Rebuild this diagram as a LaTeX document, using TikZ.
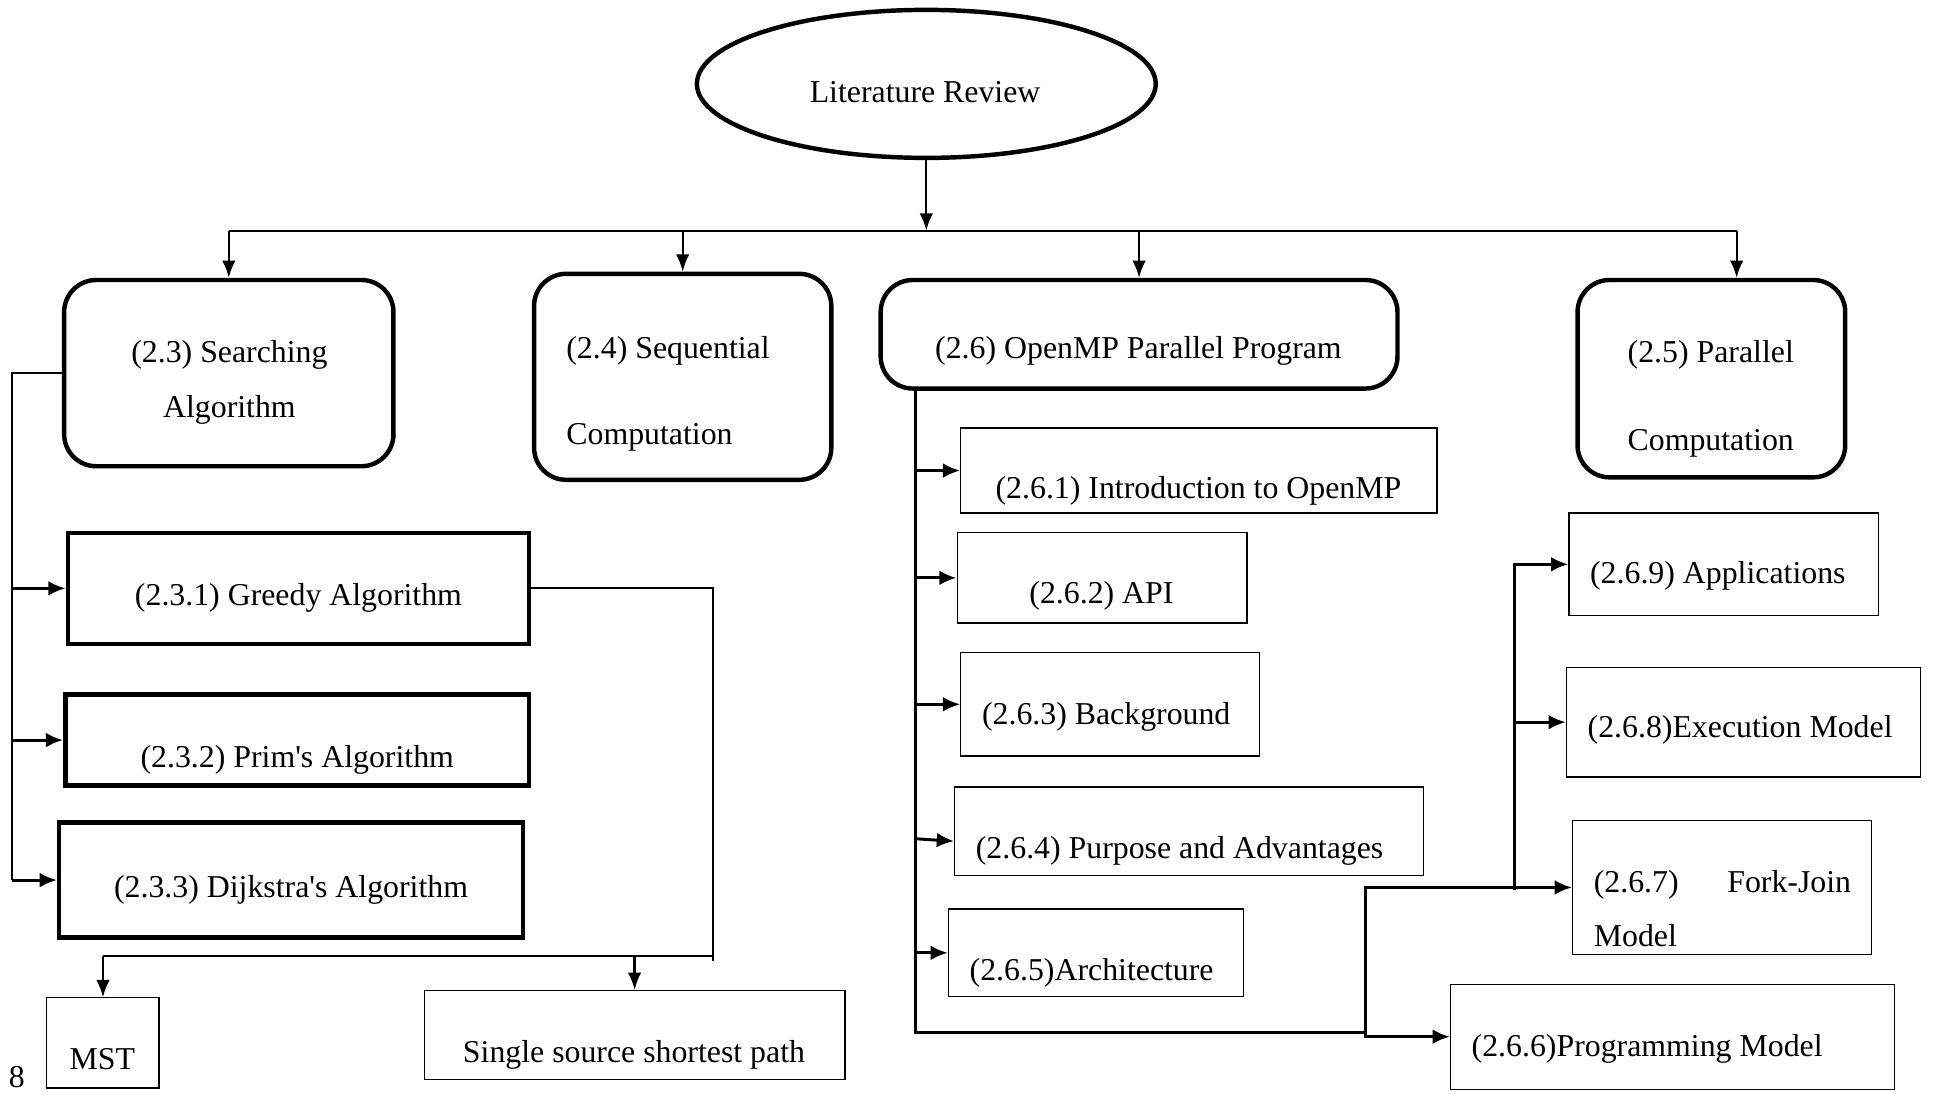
\documentclass[tikz,border=0pt]{standalone}
\usepackage{fontspec}
\setmainfont{Liberation Serif}
\usetikzlibrary{arrows.meta,shapes.geometric}

\tikzset{
  lbl/.style={inner sep=0pt, yshift=-6pt, font=\fontsize{25.8}{30}\selectfont},
  roundbox/.style={draw, line width=3.6pt, rounded corners=26pt, inner sep=0pt},
  thickbox/.style={draw, line width=3.6pt, inner sep=0pt},
  thinbox/.style={draw, line width=1pt, inner sep=0pt},
  conn/.style={line width=1.8pt},
  arr/.style={line width=1.8pt, -{Latex[length=14pt,width=11pt]}},
  warr/.style={line width=2.4pt, -{Latex[length=14pt,width=12pt]}},
}

\begin{document}
\begin{tikzpicture}[x=1pt,y=-1pt]
\useasboundingbox (0,0) rectangle (1568,887);

% ---- root ----
\node[draw, ellipse, line width=3.6pt, minimum width=372pt, minimum height=120pt, inner sep=0pt] (lit) at (751,68) {};
\node[lbl, anchor=mid] (tlit) at (750,75) {Literature Review};

% ---- main chapters ----
\node[roundbox, minimum width=267pt, minimum height=151pt] (n23) at (185.5,302.5) {};
\node[lbl, anchor=mid] (t23a) at (186,286) {(2.3) Searching};
\node[lbl, anchor=mid] (t23b) at (186,330) {Algorithm};

\node[roundbox, minimum width=241pt, minimum height=167pt] (n24) at (553.5,305.5) {};
\node[lbl, anchor=mid west] (t24a) at (459,282) {(2.4) Sequential};
\node[lbl, anchor=mid west] (t24b) at (459,352) {Computation};

\node[roundbox, minimum width=419pt, minimum height=88pt] (n26) at (923.5,271) {};
\node[lbl, anchor=mid] (t26) at (923,282) {(2.6) OpenMP Parallel Program};

\node[roundbox, minimum width=217pt, minimum height=160pt] (n25) at (1387.5,307) {};
\node[lbl, anchor=mid] (t25a) at (1387,286) {(2.5) Parallel};
\node[lbl, anchor=mid] (t25b) at (1387,357) {Computation};

% ---- searching algorithms ----
\node[thickbox, minimum width=374pt, minimum height=90pt] (n231) at (242,477) {};
\node[lbl, anchor=mid] (t231) at (242,483) {(2.3.1) Greedy Algorithm};
\node[thickbox, minimum width=376pt, minimum height=74pt] (n232) at (241,600) {};
\node[lbl, anchor=mid] (t232) at (241,614) {(2.3.2) Prim\textquotesingle s Algorithm};
\node[thickbox, minimum width=376pt, minimum height=93pt] (n233) at (236,713.5) {};
\node[lbl, anchor=mid] (t233) at (236,719) {(2.3.3) Dijkstra\textquotesingle s Algorithm};

\node[thinbox, minimum width=91pt, minimum height=73pt] (mst) at (83.5,845.5) {};
\node[lbl, anchor=mid] (tmst) at (83,859) {MST};
\node[thinbox, minimum width=341pt, minimum height=72pt] (ssp) at (514.5,839) {};
\node[lbl, anchor=mid] (tssp) at (514,853) {Single source shortest path};

% ---- OpenMP topics ----
\node[thinbox, minimum width=386pt, minimum height=69pt] (n261) at (972,381.5) {};
\node[lbl, anchor=mid west] (t261) at (807,396) {(2.6.1) Introduction to OpenMP};
\node[thinbox, minimum width=235pt, minimum height=73pt] (n262) at (893.5,468.5) {};
\node[lbl, anchor=mid] (t262) at (893,481) {(2.6.2) API};
\node[thinbox, minimum width=242pt, minimum height=84pt] (n263) at (900,571) {};
\node[lbl, anchor=mid west] (t263) at (796,579) {(2.6.3) Background};
\node[thinbox, minimum width=380pt, minimum height=72pt] (n264) at (964,674) {};
\node[lbl, anchor=mid west] (t264) at (791,688) {(2.6.4) Purpose and Advantages};
\node[thinbox, minimum width=239pt, minimum height=71pt] (n265) at (888.5,772.5) {};
\node[lbl, anchor=mid west] (t265) at (786,787) {(2.6.5)Architecture};

\node[thinbox, minimum width=251pt, minimum height=83pt] (n269) at (1397.5,457.5) {};
\node[lbl, anchor=mid west] (t269) at (1289,465) {(2.6.9) Applications};
\node[thinbox, minimum width=287pt, minimum height=89pt] (n268) at (1413.5,585.5) {};
\node[lbl, anchor=mid west] (t268) at (1287,590) {(2.6.8)Execution Model};
\node[thinbox, minimum width=242pt, minimum height=109pt] (n267) at (1396,719.5) {};
\node[lbl, anchor=mid west] (t267a) at (1292,715) {(2.6.7)};
\node[lbl, anchor=mid east] (t267b) at (1501,715) {Fork-Join};
\node[lbl, anchor=mid west] (t267c) at (1292,759) {Model};
\node[thinbox, minimum width=360pt, minimum height=85pt] (n266) at (1356,840.5) {};
\node[lbl, anchor=mid west] (t266) at (1193,848) {(2.6.6)Programming Model};

% page number in the bottom-left corner
\node[lbl, anchor=mid west] (pg) at (7,873) {8};

% ---- top distribution bus ----
\coordinate (bus) at (751,187);
\coordinate (d25) at (1408,187);
\draw[arr] (lit.south) -- (bus);
\draw[conn] (n23.north |- bus) -- (d25);
\draw[arr] (n23.north |- bus) -- (n23.north);
\draw[arr] (n24.north |- bus) -- (n24.north);
\draw[arr] (n26.north |- bus) -- (n26.north);
\draw[arr] (d25) -- (d25 |- n25.north);

% ---- searching bracket ----
\coordinate (sL) at (10,302);
\draw[conn] (n23.west) -| (sL |- n233.west);
\draw[warr] (sL |- n231.west) -- (n231.west);
\draw[warr] (sL |- n232.west) -- (n232.west);
\draw[warr] (sL |- n233.west) -- (n233.west);

% ---- greedy results ----
\coordinate (gR) at (578,775);
\draw[conn] (n231.east) -| ([yshift=-4pt]gR);
\draw[conn] (gR) -- (mst.north |- gR);
\draw[arr] (mst.north |- gR) -- (mst.north);
\draw[arr] (ssp.north |- gR) -- (ssp.north);

% ---- OpenMP spine ----
\coordinate (oT) at (742,315);
\coordinate (oB) at (742,837);
\coordinate (oJ) at (1107,837);
\draw[line width=2.4pt] (oT) -- (oB) -- (oJ);
\draw[warr] (oT |- n261.west) -- (n261.west);
\draw[warr] (oT |- n262.west) -- (n262.west);
\draw[warr] (oT |- n263.west) -- (n263.west);
\draw[warr] ([yshift=-6pt]oT |- n264.west) -- ([yshift=-8pt]n264.west);
\draw[warr] (oT |- n265.west) -- (n265.west);
\draw[warr] (oJ) -- (oJ |- n266.west) -- (n266.west);
\draw[warr] (oJ) -- (oJ |- n267.west) -- (n267.west);

% ---- execution branch ----
\coordinate (bX) at (1228,720);
\draw[warr] ([yshift=-2pt]bX |- n267.west) |- (n269.west);
\draw[warr] (bX |- n268.west) -- (n268.west);
\end{tikzpicture}
\end{document}
